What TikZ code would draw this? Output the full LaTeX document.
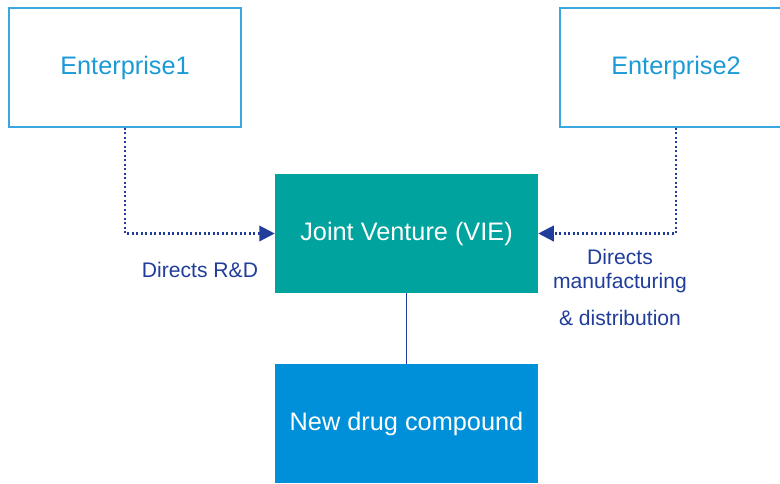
\documentclass[tikz,border=0pt]{standalone}
\usepackage{fontspec}
\setmainfont{Liberation Sans}
\usetikzlibrary{arrows.meta}
\definecolor{entblue}{HTML}{1B9AD6}
\definecolor{entline}{HTML}{3BA7E1}
\definecolor{jvteal}{HTML}{00A39D}
\definecolor{drugblue}{HTML}{0090DA}
\definecolor{linkblue}{HTML}{1F3D99}
\tikzset{
    partner/.style={draw=entline, line width=0.9pt, text=entblue, minimum width=232\px, minimum height=119\px, font=\fontsize{18}{21}\selectfont},
    unit/.style={fill=#1, text=white, minimum width=263\px, minimum height=119\px, font=\fontsize{18}{21}\selectfont},
    directs/.style={draw=linkblue, line width=1.6pt, dash pattern=on 1.6pt off 1.6pt, -{Triangle[length=11pt,width=11pt]}},
    note/.style={text=linkblue, font=\fontsize{15}{18}\selectfont, align=center}
}
\newlength{\px}
\setlength{\px}{0.025cm}
\begin{document}
\begin{tikzpicture}[x=0.025cm, y=-0.025cm]
    \useasboundingbox (0,0) rectangle (780,483);
    \node[partner] (ent1) at (125,67.5) {Enterprise1};
    \node[partner] (ent2) at (676,67.5) {Enterprise2};
    \node[unit=jvteal] (jv) at (406.5,233.5) {Joint Venture (VIE)};
    \node[unit=drugblue] (drug) at (406.5,423.5) {New drug compound};
    \draw[directs] (ent1.south) |- (jv.west);
    \draw[directs] (ent2.south) |- (jv.east);
    \draw[linkblue, line width=1.2pt] (jv.south) -- (drug.north);
    \node[note] (rd) at (200,270) {Directs R\&D};
    \node[note] (mf) at (620,271) {Directs\\[-1pt]manufacturing};
    \node[note] (dist) at (620,318) {\& distribution};
\end{tikzpicture}
\end{document}
